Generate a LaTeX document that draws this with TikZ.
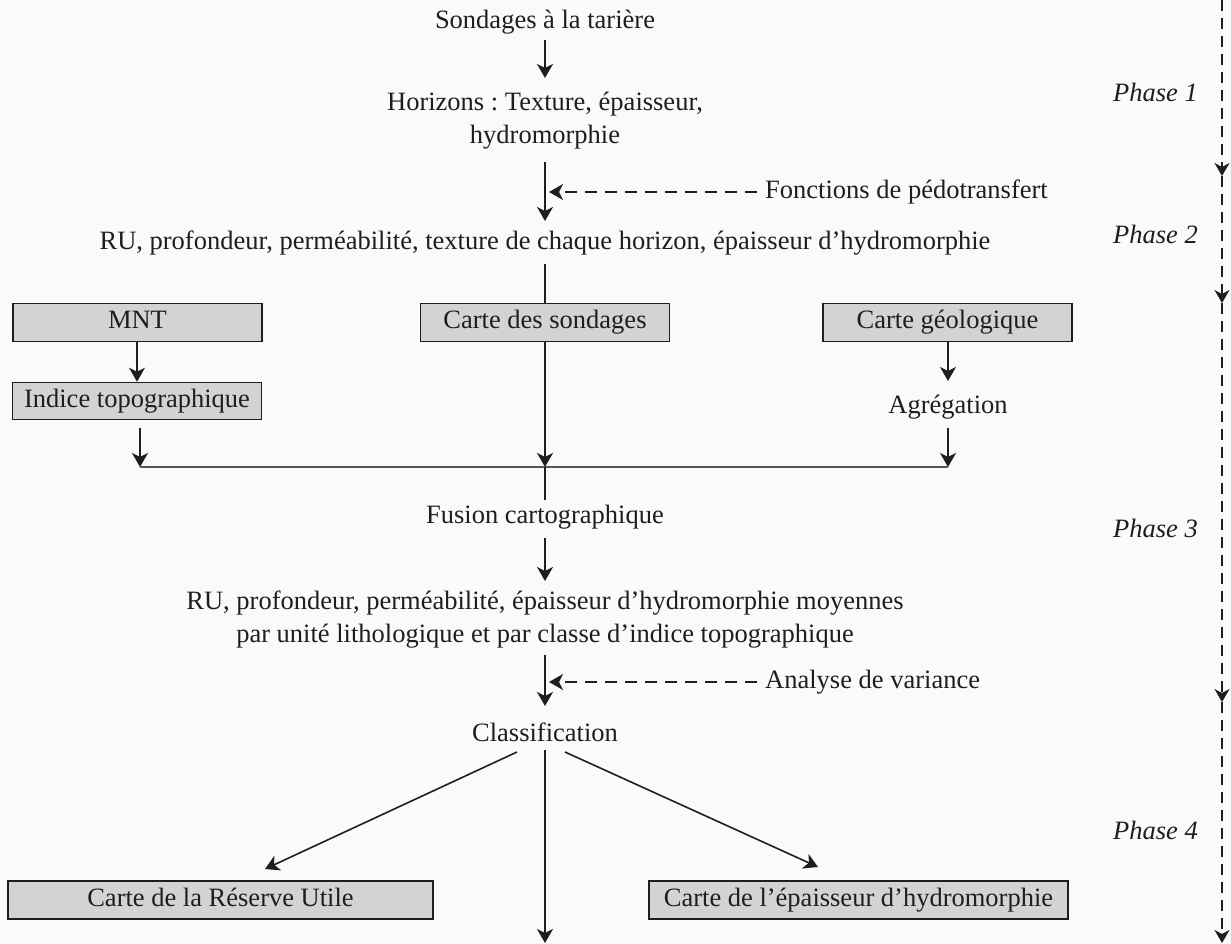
\documentclass[tikz,border=0pt]{standalone}
\usepackage{fontspec}
\setmainfont{Liberation Serif}
\usetikzlibrary{arrows.meta}
\definecolor{bgc}{HTML}{FAFAFA}
\definecolor{boxgray}{HTML}{D3D3D3}
\definecolor{linec}{HTML}{1E1E1E}
\frenchspacing
\begin{document}
\begin{tikzpicture}[x=1pt,y=-1pt,
  lbl/.style={font=\fontsize{26.5}{33}\selectfont\frenchspacing, inner sep=0pt, align=center, text=linec},
  box/.style={lbl, draw=linec, fill=boxgray, line width=1.6pt, minimum height=38pt, inner sep=0pt, text height=18pt, text depth=6pt},
  phase/.style={font=\fontsize{26.5}{33}\selectfont\itshape, inner sep=0pt, anchor=east, text=linec},
  tip/.style={-{Stealth[length=14pt,width=16pt,inset=4pt]}},
  arr/.style={line width=1.6pt, draw=linec, tip},
  plain/.style={line width=1.6pt, draw=linec},
  darr/.style={line width=1.6pt, draw=linec, dash pattern=on 12pt off 8pt, tip},
  rarr/.style={line width=1.5pt, draw=linec, dash pattern=on 11pt off 7pt, -{Stealth[length=13pt,width=15pt,inset=4pt]}}
]
\path[fill=bgc] (0,0) rectangle (1231,944);
\useasboundingbox (0,0) rectangle (1231,944);

% text nodes
\node[lbl] (s1) at (545,22) {Sondages à la tarière};
\node[lbl] (h) at (545,121) {Horizons : Texture, épaisseur,\\hydromorphie};
\node[lbl, anchor=west] (fp) at (765,192) {Fonctions de pédotransfert};
\node[lbl] (ru) at (545,243) {RU, profondeur, perméabilité, texture de chaque horizon, épaisseur d’hydromorphie};

\node[box, minimum width=249pt] (mnt) at (137.5,322.5) {MNT};
\node[box, minimum width=249pt] (cs) at (545,322.5) {Carte des sondages};
\node[box, minimum width=249pt] (cg) at (947.5,322.5) {Carte géologique};
\node[box, minimum width=249pt, minimum height=37pt] (it) at (137,401) {Indice topographique};
\node[lbl] (ag) at (948,407) {Agrégation};

\node[lbl] (fus) at (545,517) {Fusion cartographique};
\node[lbl] (moy) at (545,620) {RU, profondeur, perméabilité, épaisseur d’hydromorphie moyennes\\par unité lithologique et par classe d’indice topographique};
\node[lbl, anchor=west] (av) at (765,682) {Analyse de variance};
\node[lbl] (cl) at (545,732) {Classification};

\node[box, minimum width=425pt] (cru) at (220.5,900) {Carte de la Réserve Utile};
\node[box, minimum width=419pt] (cep) at (858.5,900) {Carte de l’épaisseur d’hydromorphie};

\node[phase] (p1) at (1198,92) {Phase 1};
\node[phase] (p2) at (1198,234) {Phase 2};
\node[phase] (p3) at (1198,528) {Phase 3};
\node[phase] (p4) at (1198,830) {Phase 4};

% coordinates
\coordinate (a1s) at (545,40);
\coordinate (a1e) at (545,78);
\coordinate (a2s) at (545,162);
\coordinate (a2e) at (545,221);
\coordinate (cst) at (545,264);
\coordinate (jl) at (140,467);
\coordinate (jm) at (545,467);
\coordinate (jr) at (948,467);
\coordinate (its) at (140,428);
\coordinate (ags) at (948,428);
\coordinate (age) at (948,381);
\coordinate (fusn) at (545,500);
\coordinate (fuss) at (545,538);
\coordinate (moyn) at (545,581);
\coordinate (moys) at (545,655);
\coordinate (cln) at (545,706);
\coordinate (fpt) at (549,192);
\coordinate (avt) at (549,682);
\coordinate (cll) at (517,752);
\coordinate (clm) at (545,750);
\coordinate (clr) at (565,752);
\coordinate (bot) at (545,943);
\coordinate (crut) at (265,869);
\coordinate (cept) at (818,867);

% main flow
\draw[arr] (a1s) -- (a1e);
\draw[arr] (a2s) -- (a2e);
\draw[darr] ([xshift=-8pt]fp.west) -- (fpt);
\draw[plain] (cst) -- (cs.north);
\draw[arr] (mnt.south -| it) -- (it.north);
\draw[arr] (cs.south) -- (jm);
\draw[arr] (cg.south -| ag) -- (age);
\draw[arr] (its) -- (jl);
\draw[arr] (ags) -- (jr);
\draw[line width=2pt, draw=linec!75] (jl) -- (jr);
\draw[plain] (jm) -- (fusn);
\draw[arr] (fuss) -- (moyn);
\draw[arr] (moys) -- (cln);
\draw[darr] ([xshift=-8pt]av.west) -- (avt);
\draw[arr] (cll) -- (crut);
\draw[arr] (clr) -- (cept);
\draw[arr] (clm) -- (bot);

% phase line
\coordinate (r0) at (1222,0);
\coordinate (r1) at (1222,176);
\coordinate (r2) at (1222,303);
\coordinate (r3) at (1222,702);
\coordinate (r4) at (1222,943);
\draw[rarr] (r0) -- (r1);
\draw[rarr] (r1) -- (r2);
\draw[rarr] (r2) -- (r3);
\draw[rarr] (r3) -- (r4);
\end{tikzpicture}
\end{document}
